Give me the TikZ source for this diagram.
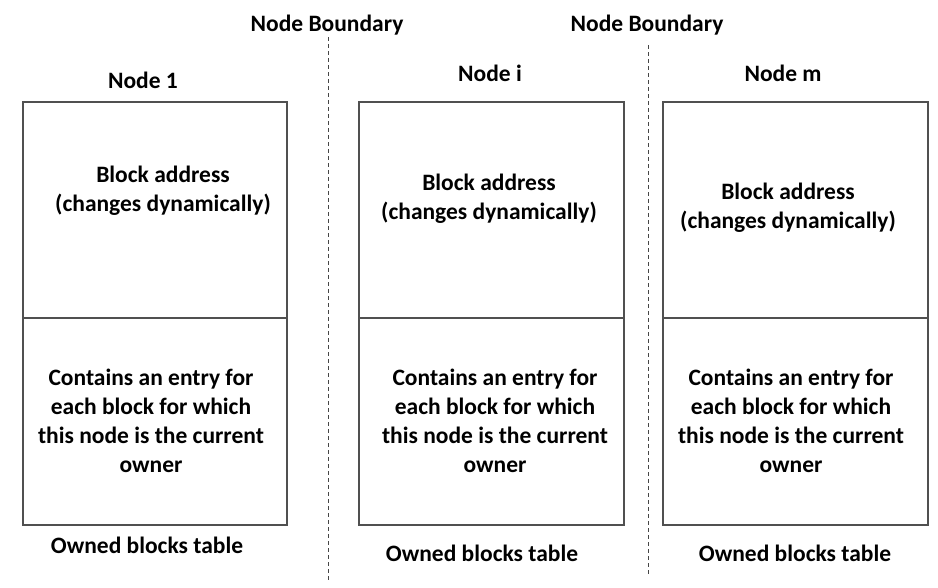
\documentclass[tikz,border=0pt]{standalone}
\usepackage{fontspec}
\setmainfont{Carlito}
\usetikzlibrary{positioning}
\tikzset{every picture/.style={/utils/exec={\bfseries\fontsize{23.5}{29}\selectfont}}}
\tikzset{
  lbl/.style={text=black,inner sep=0pt,outer sep=0pt,align=center},
  cellline/.style={draw=drawColor,line width=1.3pt},
  boundline/.style={draw=dashColor,line width=0.9pt,dash pattern=on 4pt off 3pt}
}

\begin{document}
\begin{tikzpicture}[x=1pt,y=1pt]
\definecolor{fillColor}{RGB}{255,255,255}
\definecolor{drawColor}{RGB}{80,80,80}
\definecolor{dashColor}{RGB}{70,70,70}
\path[use as bounding box,fill=fillColor] (0,0) rectangle (938,588);

% node boundaries
\node[lbl] (bnd1) at (327,563) {Node Boundary};
\node[lbl] (bnd2) at (647,563) {Node Boundary};
\coordinate (bnd1end) at (328,6);
\coordinate (bnd2end) at (648,14);
\path[boundline] (bnd1.south -| bnd1end) ++(0,-2) -- (bnd1end);
\path[boundline] (bnd2.south -| bnd2end) ++(0,-10) -- (bnd2end);

% the three tables
\path[cellline] ( 23, 63) rectangle (287,486);
\path[cellline] ( 23,270) -- (287,270);
\path[cellline] (359, 63) rectangle (624,486);
\path[cellline] (359,270) -- (624,270);
\path[cellline] (663, 63) rectangle (928,486);
\path[cellline] (663,270) -- (928,270);

\node[lbl] (head1) at (143,508) {Node 1};
\node[lbl] (headi) at (490,515) {Node i};
\node[lbl] (headm) at (783,515) {Node m};

\node[lbl] (addr1) at (163,397) {Block address\\(changes dynamically)};
\node[lbl] (addri) at (489,389) {Block address\\(changes dynamically)};
\node[lbl] (addrm) at (788,380) {Block address\\(changes dynamically)};

\node[lbl] (own1) at (151,167) {Contains an entry for\\each block for which\\this node is the current\\owner};
\node[lbl] (owni) at (495,167) {Contains an entry for\\each block for which\\this node is the current\\owner};
\node[lbl] (ownm) at (791,167) {Contains an entry for\\each block for which\\this node is the current\\owner};

\node[lbl] (tbl1) at (147,43) {Owned blocks table};
\node[lbl] (tbli) at (482,35) {Owned blocks table};
\node[lbl] (tblm) at (795,35) {Owned blocks table};
\end{tikzpicture}
\end{document}
